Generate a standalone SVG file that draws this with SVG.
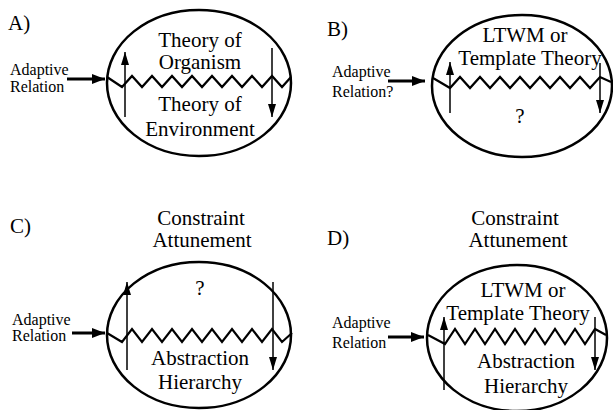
<svg xmlns="http://www.w3.org/2000/svg" width="613" height="410" viewBox="0 0 613 410">
<defs>
<style>
text{font-family:'Liberation Serif','Times New Roman',Tinos,'Nimbus Roman','DejaVu Serif',serif;fill:#000}
.t{font-size:21px;text-anchor:middle}
.lab{font-size:21px}
.s{font-size:16px}
.ell{fill:#fff;stroke:#000;stroke-width:2.5}
.zz{fill:none;stroke:#000;stroke-width:2.2;stroke-linejoin:miter}
.v{stroke:#000;stroke-width:1.5;fill:none}
.h{stroke:#000;stroke-width:3;fill:none}
</style>
<marker id="vh" markerUnits="userSpaceOnUse" markerWidth="14" markerHeight="10" refX="13" refY="4" orient="auto">
<path d="M0,0 L13,4 L0,8 Z" fill="#000"/>
</marker>
<marker id="hh" markerUnits="userSpaceOnUse" markerWidth="14" markerHeight="10" refX="13" refY="5" orient="auto">
<path d="M0,0 L13,5 L0,10 Z" fill="#000"/>
</marker>
</defs>
<rect width="613" height="410" fill="#fff"/>

<g id="panelA">
<text class="lab" x="8" y="30" font-family="Liberation Serif, serif">A)</text>
<ellipse class="ell" cx="199" cy="83" rx="92" ry="73"/>
<path class="zz" d="M107,77 L122,87 L132,76 L142,87 L152,76 L162,87 L172,76 L182,87 L192,76 L202,87 L212,76 L222,87 L232,76 L242,87 L252,76 L262,87 L272,76 L282,87 L291,77"/>
<text class="t" x="200" y="47">Theory of</text>
<text class="t" x="200" y="69">Organism</text>
<text class="t" x="200" y="111">Theory of</text>
<text class="t" x="200" y="136">Environment</text>
<text class="s" x="10" y="75">Adaptive</text>
<text class="s" x="10" y="92">Relation</text>
</g>

<g id="panelB">
<text class="lab" x="327" y="36">B)</text>
<ellipse class="ell" cx="522" cy="86" rx="90" ry="71"/>
<path class="zz" d="M433,78 L450,88 L460,77 L470,88 L480,77 L490,88 L500,77 L510,88 L520,77 L530,88 L540,77 L550,88 L560,77 L570,88 L580,77 L590,88 L600,77 L611,82"/>
<text class="t" x="525" y="42">LTWM or</text>
<text class="t" x="530" y="65">Template Theory</text>
<text class="t" x="520" y="123">?</text>
<text class="s" x="332" y="77">Adaptive</text>
<text class="s" x="332" y="97">Relation?</text>
</g>

<g id="panelC">
<text class="lab" x="10" y="233">C)</text>
<text class="t" x="201" y="225">Constraint</text>
<text class="t" x="202" y="247">Attunement</text>
<ellipse class="ell" cx="199" cy="335" rx="92" ry="73"/>
<path class="zz" d="M107,333 L122,342 L132,329 L142,342 L152,329 L162,342 L172,329 L182,342 L192,329 L202,342 L212,329 L222,342 L232,329 L242,342 L252,329 L262,342 L272,329 L282,342 L292,333"/>
<text class="t" x="200" y="295">?</text>
<text class="t" x="200" y="365">Abstraction</text>
<text class="t" x="200" y="389">Hierarchy</text>
<text class="s" x="12" y="325">Adaptive</text>
<text class="s" x="12" y="341">Relation</text>
</g>

<g id="panelD">
<text class="lab" x="327" y="245">D)</text>
<text class="t" x="515" y="225">Constraint</text>
<text class="t" x="518" y="247">Attunement</text>
<ellipse class="ell" cx="517" cy="338" rx="90" ry="73"/>
<path class="zz" d="M428,335 L445,344 L455,329 L465,344 L475,329 L485,344 L495,329 L505,344 L515,329 L525,344 L535,329 L545,344 L555,329 L565,344 L575,329 L585,344 L595,329 L606,335"/>
<text class="t" x="523" y="297">LTWM or</text>
<text class="t" x="518" y="320">Template Theory</text>
<text class="t" x="526" y="368">Abstraction</text>
<text class="t" x="526" y="393">Hierarchy</text>
<text class="s" x="332" y="328">Adaptive</text>
<text class="s" x="332" y="348">Relation</text>
</g>

<g id="connectors">
<line class="h" x1="67" y1="79" x2="105" y2="79" marker-end="url(#hh)"/>
<line class="v" x1="125" y1="117" x2="125" y2="52" marker-end="url(#vh)"/>
<line class="v" x1="272" y1="48" x2="272" y2="117" marker-end="url(#vh)"/>
<line class="h" x1="388" y1="81" x2="425" y2="81" marker-end="url(#hh)"/>
<line class="v" x1="450" y1="113" x2="450" y2="62" marker-end="url(#vh)"/>
<line class="v" x1="600" y1="63" x2="600" y2="113" marker-end="url(#vh)"/>
<line class="h" x1="72" y1="333" x2="105" y2="333" marker-end="url(#hh)"/>
<line class="v" x1="127" y1="370" x2="127" y2="282" marker-end="url(#vh)"/>
<line class="v" x1="273" y1="282" x2="273" y2="370" stroke-width="1" stroke="#444" marker-end="url(#vh)"/>
<line class="h" x1="388" y1="337" x2="424" y2="337" marker-end="url(#hh)"/>
<line class="v" x1="444" y1="390" x2="444" y2="317" marker-end="url(#vh)"/>
<line class="v" x1="595" y1="317" x2="595" y2="370" marker-end="url(#vh)"/>
</g>
</svg>
